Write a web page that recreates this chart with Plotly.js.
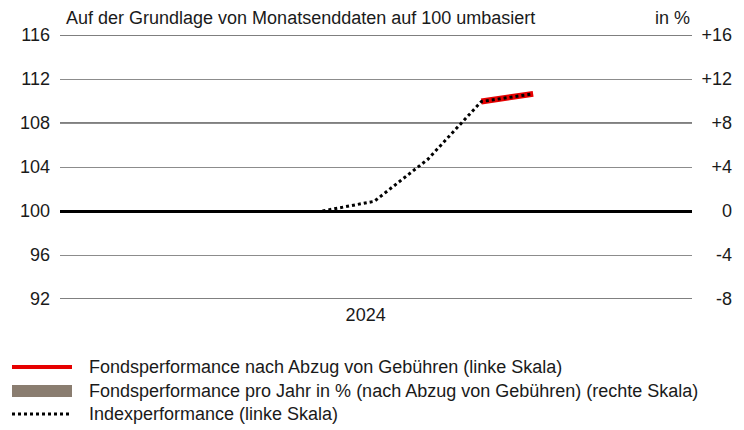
<!DOCTYPE html>
<html>
<head>
<meta charset="utf-8">
<script src="https://cdn.plot.ly/plotly-3.0.1.min.js"></script>
<style>html,body{margin:0;padding:0;background:#fff;}#chart{width:744px;height:430px;}</style>
</head>
<body>
<div id="chart"></div>
<script>
// Data (month-end values, rebased to 100)
const dates = ['2024-05-31', '2024-06-30', '2024-07-31', '2024-08-31', '2024-09-30'];
const indexValues = [100, 100.88, 104.7, 109.95, 110.65];
const fundDates = ['2024-08-31', '2024-09-30'];
const fundValues = [109.95, 110.65];
const annualDates = ['2024-09-30'];
const annualValues = [null];
const leftTicks = [92, 96, 100, 104, 108, 112, 116];
const darkGridValues = [92, 108, 116];
const rightTicks = [-8, -4, 0, 4, 8, 12, 16];
const rightTickText = ['-8', '-4', '0', '+4', '+8', '+12', '+16'];
const xTickVals = ['2024-06-25'];
const xTickText = ['2024'];
const seriesNames = [
  'Fondsperformance nach Abzug von Gebühren (linke Skala)',
  'Fondsperformance pro Jahr in % (nach Abzug von Gebühren) (rechte Skala)',
  'Indexperformance (linke Skala)'
];
const titleText = 'Auf der Grundlage von Monatsenddaten auf 100 umbasiert';
const unitText = 'in %';

const FONT = 'Liberation Sans, Arial, sans-serif';
const FS = 18;
const TXT = '#1a1a1a';
const RED = '#e60000';
const TAUPE = '#8a7d70';

const traces = [
  {x: annualDates, y: annualValues, type: 'bar', yaxis: 'y2', name: seriesNames[1],
   marker: {color: TAUPE}, showlegend: false, hoverinfo: 'skip'},
  {x: fundDates, y: fundValues, type: 'scatter', mode: 'lines', name: seriesNames[0],
   line: {color: RED, width: 6}, showlegend: false},
  {x: dates, y: indexValues, type: 'scatter', mode: 'lines', name: seriesNames[2],
   line: {color: '#000', width: 3, dash: 'dot'}, showlegend: false}
];

const L = 60, R = 12, T = 35, B = 131, W = 744, H = 430;
const pw = W - L - R, ph = H - T - B;
const px = v => (v - L) / pw;      // container px -> paper x
const py = v => (H - B - v) / ph;  // container px -> paper y

const shapes = darkGridValues.map(v => ({
  type: 'line', xref: 'x domain', yref: 'y', x0: 0, x1: 1, y0: v, y1: v,
  line: {color: '#000', width: 1}, layer: 'below'
}));

const legendRows = [367, 391, 414];
shapes.push(
  {type: 'line', xref: 'paper', yref: 'paper', x0: px(12), x1: px(72), y0: py(legendRows[0]), y1: py(legendRows[0]),
   line: {color: RED, width: 4}},
  {type: 'rect', xref: 'paper', yref: 'paper', x0: px(12), x1: px(72), y0: py(legendRows[1] - 6), y1: py(legendRows[1] + 6),
   fillcolor: TAUPE, line: {width: 0}},
  {type: 'line', xref: 'paper', yref: 'paper', x0: px(12), x1: px(72), y0: py(legendRows[2]), y1: py(legendRows[2]),
   line: {color: '#000', width: 3, dash: 'dot'}}
);

const annotations = [
  {text: titleText, xref: 'x domain', yref: 'paper', x: 0.006, y: py(18), xanchor: 'left', yanchor: 'middle',
   showarrow: false, font: {family: FONT, size: FS, color: TXT}},
  {text: unitText, xref: 'x domain', yref: 'paper', x: 1, y: py(18), xanchor: 'right', yanchor: 'middle',
   showarrow: false, font: {family: FONT, size: FS, color: TXT}}
];
seriesNames.forEach((n, i) => {
  annotations.push({text: n, xref: 'paper', yref: 'paper', x: px(87), y: py(legendRows[i]),
    xanchor: 'left', yanchor: 'middle', showarrow: false, font: {family: FONT, size: FS, color: TXT}});
});

const layout = {
  width: W, height: H,
  margin: {l: L, r: R, t: T, b: B, pad: 0},
  paper_bgcolor: '#fff', plot_bgcolor: '#fff',
  font: {family: FONT, size: FS, color: TXT},
  showlegend: false,
  xaxis: {
    type: 'date', domain: [0, 632 / pw], range: ['2023-12-31', '2024-12-31'],
    tickvals: xTickVals, ticktext: xTickText, ticks: '', showgrid: false, zeroline: false,
    showline: false, ticklabelstandoff: 3,
    tickfont: {family: FONT, size: FS, color: TXT}, fixedrange: true
  },
  yaxis: {
    range: [92, 116], tickvals: leftTicks, ticks: '', showgrid: true, gridcolor: '#8c8c8c', gridwidth: 1,
    zeroline: false, showline: false, ticklabelstandoff: 9,
    tickfont: {family: FONT, size: FS, color: TXT}, fixedrange: true
  },
  yaxis2: {
    range: [-8, 16], tickvals: rightTicks, ticktext: rightTickText, overlaying: 'y', anchor: 'free',
    position: 1, side: 'left', ticks: '', showgrid: false, showline: false,
    zeroline: true, zerolinecolor: '#000', zerolinewidth: 3,
    tickfont: {family: FONT, size: FS, color: TXT}, fixedrange: true
  },
  shapes: shapes,
  annotations: annotations
};

Plotly.newPlot('chart', traces, layout, {displayModeBar: false, staticPlot: true});
</script>
</body>
</html>
